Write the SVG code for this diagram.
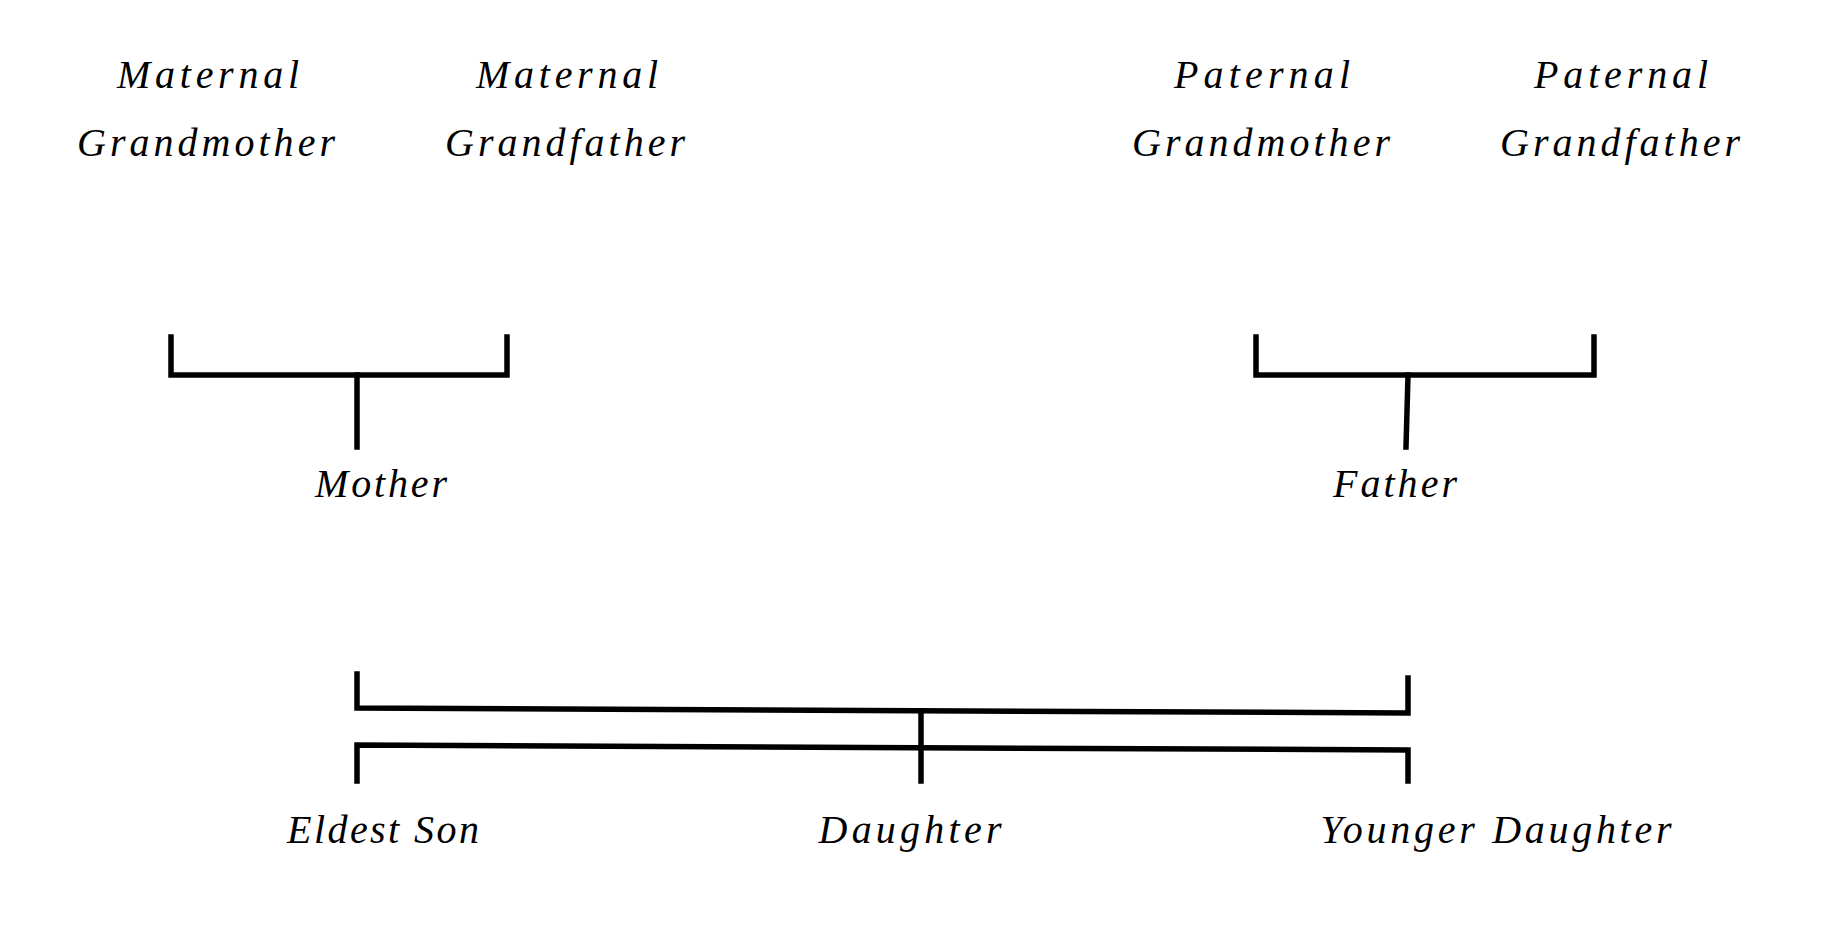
<svg xmlns="http://www.w3.org/2000/svg" width="1832" height="939" viewBox="0 0 1832 939">
<style>
.lbl{font-family:"Liberation Serif","DejaVu Serif",serif;font-style:italic;font-size:40px;fill:#000;text-anchor:middle}
.ln{fill:none;stroke:#000;stroke-width:5.5;stroke-linecap:square;stroke-linejoin:miter}
</style>
<rect width="1832" height="939" fill="#fff"/>
<g id="connectors">
<path class="ln" d="M171 337 V375 H507 V337"/>
<path class="ln" d="M357 375 V447"/>
<path class="ln" d="M1256 337 V375 H1594 V337"/>
<path class="ln" d="M1408 375 L1406 447"/>
<path class="ln" d="M357 674 V708 L1408 713 V678"/>
<path class="ln" d="M357 781 V745 L1408 750 V781"/>
<path class="ln" d="M921 711 V781"/>
</g>
<g id="maternal-grandmother"><text class="lbl" x="208" y="88" textLength="182" lengthAdjust="spacing">Maternal</text><text class="lbl" x="206" y="156" textLength="258" lengthAdjust="spacing">Grandmother</text></g>
<g id="maternal-grandfather"><text class="lbl" x="567" y="88" textLength="182" lengthAdjust="spacing">Maternal</text><text class="lbl" x="565" y="156" textLength="240" lengthAdjust="spacing">Grandfather</text></g>
<g id="paternal-grandmother"><text class="lbl" x="1262" y="88" textLength="176" lengthAdjust="spacing">Paternal</text><text class="lbl" x="1261" y="156" textLength="258" lengthAdjust="spacing">Grandmother</text></g>
<g id="paternal-grandfather"><text class="lbl" x="1621" y="88" textLength="174" lengthAdjust="spacing">Paternal</text><text class="lbl" x="1620" y="156" textLength="240" lengthAdjust="spacing">Grandfather</text></g>
<g id="mother"><text class="lbl" x="381" y="497" textLength="132" lengthAdjust="spacing">Mother</text></g>
<g id="father"><text class="lbl" x="1395" y="497" textLength="124" lengthAdjust="spacing">Father</text></g>
<g id="eldest-son"><text class="lbl" x="383" y="843" textLength="192" lengthAdjust="spacing">Eldest Son</text></g>
<g id="daughter"><text class="lbl" x="910" y="843" textLength="183" lengthAdjust="spacing">Daughter</text></g>
<g id="younger-daughter"><text class="lbl" x="1496" y="843" textLength="351" lengthAdjust="spacing">Younger Daughter</text></g>
</svg>
